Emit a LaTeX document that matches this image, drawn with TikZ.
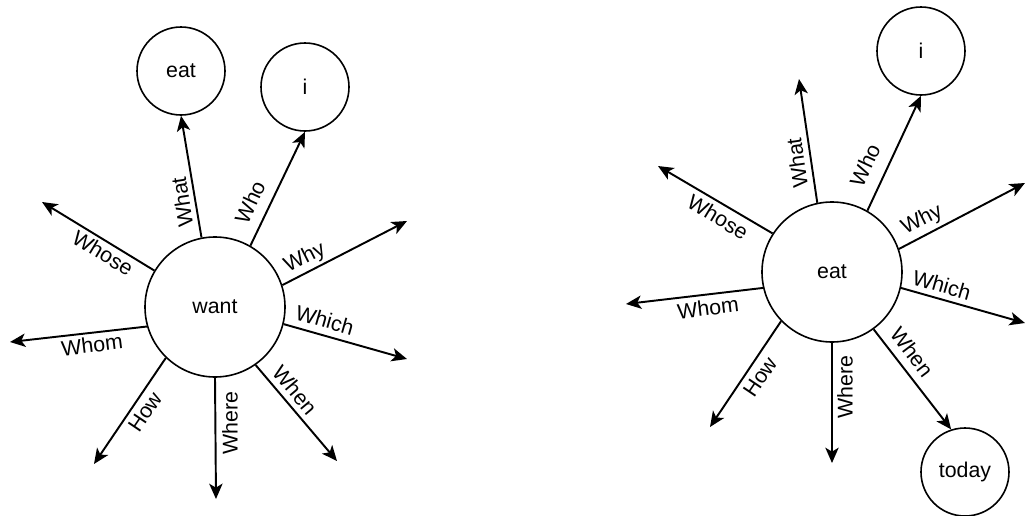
\documentclass[tikz,border=0pt]{standalone}
\usepackage{fontspec}
\setmainfont{Liberation Sans}
\usetikzlibrary{arrows.meta}
\begin{document}
\begin{tikzpicture}[x=0.75pt,y=-0.75pt,
  every node/.style={font=\fontsize{16}{18}\selectfont},
  bigc/.style={draw,circle,line width=1.2pt,minimum size=105pt,inner sep=0pt},
  smallc/.style={draw,circle,line width=1.2pt,minimum size=66pt,inner sep=0pt},
  rel/.style={line width=1.45pt,-{Stealth[length=11.5pt,width=10pt,inset=3pt]}},
  lab/.style={inner sep=1pt}]
\useasboundingbox (0,0) rectangle (1026,515);

% ---------- left figure ----------
\begin{scope}[shift={(215,307)}]
  \node[bigc] (want) at (0,0) {want};
  \node[smallc] (eatL) at (-34,-236) {eat};
  \node[smallc] (iL) at (90,-220) {i};
  \coordinate (LWhy) at (192,-86);
  \coordinate (LWhich) at (192,52);
  \coordinate (LWhen) at (122,154);
  \coordinate (LWhere) at (1,192);
  \coordinate (LHow) at (-121,157);
  \coordinate (LWhom) at (-205,35);
  \coordinate (LWhose) at (-173,-105);
  \draw[rel] (want.101) -- (eatL.south);
  \draw[rel] (want.60) -- (iL.south);
  \draw[rel] (want.18) -- (LWhy);
  \draw[rel] (want.-14) -- (LWhich);
  \draw[rel] (want.-55) -- (LWhen);
  \draw[rel] (want.-90) -- (LWhere);
  \draw[rel] (want.-134) -- (LHow);
  \draw[rel] (want.-164) -- (LWhom);
  \draw[rel] (want.149) -- (LWhose);
  \node[lab,rotate=99] (lWhat) at (-33,-105) {What};
  \node[lab,rotate=65] (lWho) at (35,-105) {Who};
  \node[lab,rotate=27] (lWhy) at (90,-49) {Why};
  \node[lab,rotate=-16] (lWhich) at (110,13) {Which};
  \node[lab,rotate=-50] (lWhen) at (80,83) {When};
  \node[lab,rotate=90] (lWhere) at (15,116) {Where};
  \node[lab,rotate=56] (lHow) at (-70,105) {How};
  \node[lab,rotate=7] (lWhom) at (-123,38) {Whom};
  \node[lab,rotate=-31] (lWhose) at (-112,-54) {Whose};
\end{scope}

% ---------- right figure ----------
\begin{scope}[shift={(832,272)}]
  \node[bigc] (eatR) at (0,0) {eat};
  \node[smallc] (iR) at (89,-221) {i};
  \node[smallc] (today) at (133,200) {today};
  \coordinate (RWhat) at (-33,-193);
  \coordinate (RWhy) at (193,-89);
  \coordinate (RWhich) at (193,51);
  \coordinate (RWhere) at (0,191);
  \coordinate (RHow) at (-122,155);
  \coordinate (RWhom) at (-206,32);
  \coordinate (RWhose) at (-174,-106);
  \draw[rel] (eatR.102) -- (RWhat);
  \draw[rel] (eatR.60) -- (iR.south);
  \draw[rel] (eatR.19) -- (RWhy);
  \draw[rel] (eatR.-13) -- (RWhich);
  \draw[rel] (eatR.-54) -- (today.108);
  \draw[rel] (eatR.-90) -- (RWhere);
  \draw[rel] (eatR.-136) -- (RHow);
  \draw[rel] (eatR.-167) -- (RWhom);
  \draw[rel] (eatR.147) -- (RWhose);
  \node[lab,rotate=98] (rWhat) at (-35,-109) {What};
  \node[lab,rotate=65] (rWho) at (33,-107) {Who};
  \node[lab,rotate=27] (rWhy) at (90,-52) {Why};
  \node[lab,rotate=-16] (rWhich) at (110,13) {Which};
  \node[lab,rotate=-53] (rWhen) at (80,80) {When};
  \node[lab,rotate=90] (rWhere) at (13,115) {Where};
  \node[lab,rotate=56] (rHow) at (-72,105) {How};
  \node[lab,rotate=7] (rWhom) at (-124,36) {Whom};
  \node[lab,rotate=-31] (rWhose) at (-114,-55) {Whose};
\end{scope}
\end{tikzpicture}
\end{document}
